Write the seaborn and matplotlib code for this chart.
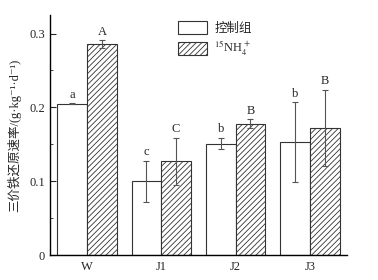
import numpy as np
import pandas as pd
import matplotlib
matplotlib.use("Agg")
import matplotlib.pyplot as plt
import seaborn as sns
from matplotlib.ticker import MultipleLocator

# datos
sitios = ["W", "J1", "J2", "J3"]
control = [0.205, 0.100, 0.151, 0.153]
control_err = [0.001, 0.028, 0.008, 0.054]
nh4 = [0.286, 0.127, 0.178, 0.172]
nh4_err = [0.005, 0.032, 0.006, 0.052]
letras_control = ["a", "c", "b", "b"]
letras_nh4 = ["A", "C", "B", "B"]
tratamientos = ["控制组", "$^{15}$NH$_4^+$"]

sns.set_style("ticks")
plt.rcParams['font.family'] = ['Liberation Serif', 'Noto Sans CJK SC', 'DejaVu Serif']
plt.rcParams['hatch.color'] = '#555555'
plt.rcParams['hatch.linewidth'] = 0.6
plt.rcParams['mathtext.fontset'] = 'stix'

df = pd.DataFrame({
    "sitio": sitios * 2,
    "trat": [tratamientos[0]] * 4 + [tratamientos[1]] * 4,
    "valor": control + nh4,
})

fig = plt.figure(figsize=(3.78, 2.8), dpi=100)
ax = fig.add_axes([0.132, 0.089, 0.786, 0.857])

sns.barplot(data=df, x="sitio", y="valor", hue="trat", errorbar=None,
            palette=["white", "white"], edgecolor="#333333", linewidth=0.8,
            width=0.8, ax=ax)

barras = ax.patches[:8]
for i, p in enumerate(barras):
    if i >= 4:
        p.set_hatch("//////")

errs = control_err + nh4_err
letras = letras_control + letras_nh4
for p, v, e, l in zip(barras, control + nh4, errs, letras):
    xc = p.get_x() + p.get_width() / 2
    ax.errorbar(xc, v, yerr=e, color="#555555", capsize=2.5, elinewidth=0.8,
                capthick=0.8)
    ax.text(xc, v + e + 0.003, l, ha="center", va="bottom", fontsize=9)

ax.set_xlim(-0.5, 3.5)
ax.set_ylim(0, 0.325)
ax.yaxis.set_minor_locator(MultipleLocator(0.05))
ax.set_yticks([0, 0.1, 0.2, 0.3])
ax.set_yticklabels(["0", "0.1", "0.2", "0.3"])
ax.tick_params(axis="y", which="both", direction="in", labelsize=9)
ax.tick_params(axis="y", which="major", length=4)
ax.tick_params(axis="y", which="minor", length=2.5)
ax.tick_params(axis="x", length=0, labelsize=9, pad=4)
ax.set_xlabel("")
ax.set_ylabel("三价铁还原速率/(g·kg⁻¹·d⁻¹)", fontsize=9, labelpad=6)
sns.despine(ax=ax)
for s in ["left", "bottom"]:
    ax.spines[s].set_linewidth(1.0)
    ax.spines[s].set_color("black")

leg = ax.legend(loc="upper left", bbox_to_anchor=(0.41, 1.0), frameon=False,
                fontsize=9, handlelength=2.3, handleheight=1.2,
                borderaxespad=0.1, labelspacing=0.3, handletextpad=0.6)
for h in leg.legend_handles:
    h.set_edgecolor("#333333")
leg.legend_handles[1].set_hatch("//////")

fig.savefig("out.png", dpi=100)
